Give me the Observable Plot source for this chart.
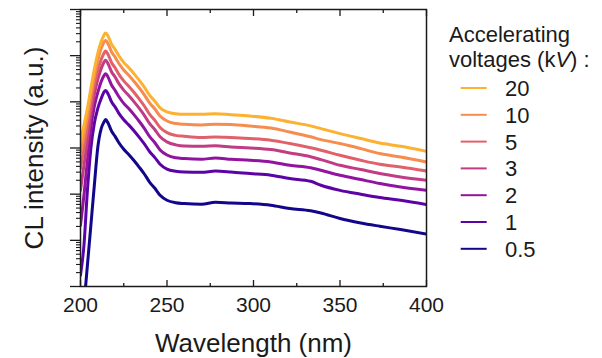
<!DOCTYPE html>
<html><head><meta charset="utf-8">
<script src="https://cdn.jsdelivr.net/npm/d3@7"></script>
<script src="https://cdn.jsdelivr.net/npm/@observablehq/plot@0.6"></script>
<style>
body{margin:0;background:#fff;font-family:"Liberation Sans",Arial,sans-serif;}
#wrap{position:relative;width:602px;height:358px;overflow:hidden;}
#legend{position:absolute;left:0;top:0;pointer-events:none;}
</style></head><body>
<div id="wrap"><div id="chart"></div><svg id="legend" width="602" height="358"></svg></div>
<script>
// Wavelength grid (nm)
const wavelength = [200, 202, 204, 206, 208, 210, 212, 213.5, 214.5, 216, 218, 220, 222, 225, 228, 231, 234, 237, 240, 243, 246, 250, 255, 260, 270, 278, 287, 298, 310, 321, 333, 339, 350, 362, 373, 385, 400];

// CL intensity (a.u.) per accelerating voltage
const cl20  = [1330, 3100, 7230, 19600, 50500, 112000, 204000, 275000, 308000, 262000, 176000, 137000, 102000, 71600, 54400, 40400, 29200, 20600, 13800, 10300, 7420, 6070, 5500, 5360, 5360, 5550, 5280, 4930, 4400, 3650, 3020, 2630, 2050, 1600, 1280, 1090, 848];
const cl10  = [807, 1880, 4850, 13800, 35600, 79100, 144000, 194000, 214000, 178000, 120000, 93300, 69200, 48800, 37100, 27500, 19900, 14000, 9420, 6990, 4930, 3840, 3390, 3260, 3150, 3270, 3210, 2990, 2710, 2220, 1750, 1520, 1250, 971, 757, 639, 498];
const cl5   = [364, 985, 2950, 8830, 22800, 48100, 83200, 112000, 126000, 105000, 70200, 54700, 40400, 28500, 21500, 15900, 11400, 8030, 5360, 3960, 2780, 2150, 1880, 1790, 1680, 1740, 1680, 1600, 1470, 1250, 1010, 892, 695, 542, 444, 388, 318];
const cl3   = [121, 422, 1470, 5360, 14500, 30700, 53100, 71600, 79100, 65800, 44200, 34400, 25400, 17900, 13500, 10000, 7200, 5050, 3370, 2490, 1750, 1360, 1170, 1100, 1090, 1120, 1050, 1000, 924, 780, 645, 561, 422, 341, 279, 236, 200];
const cl2   = [21.2, 94.7, 542, 2670, 7990, 16100, 27800, 36500, 40800, 33900, 22800, 17700, 13200, 9280, 7060, 5210, 3750, 2630, 1760, 1300, 910, 706, 614, 590, 569, 610, 569, 542, 498, 422, 373, 329, 257, 207, 170, 143, 121];
const cl1   = [1.76, 7.83, 121, 985, 3420, 7230, 11900, 16100, 17700, 14700, 9900, 7760, 5780, 4100, 3130, 2340, 1700, 1210, 828, 620, 444, 349, 313, 302, 298, 316, 302, 279, 257, 218, 190, 156, 121, 99.5, 84.4, 73.8, 59.6];
const cl05  = [0.0688, 0.394, 2.89, 21.2, 156, 1040, 2670, 3600, 4120, 3420, 2300, 1790, 1330, 937, 713, 528, 382, 270, 181, 134, 94.7, 73.8, 65.2, 62.6, 60.4, 66.5, 64.5, 62.6, 57.5, 48.8, 43.7, 39.2, 29.7, 23.8, 20.2, 17.1, 13.6];

const voltages = ["20", "10", "5", "3", "2", "1", "0.5"];
const colors   = ["#fcb130", "#f68c4e", "#e0616a", "#c13c84", "#9114a0", "#5c03a6", "#12078a"];
const seriesList = [cl20, cl10, cl5, cl3, cl2, cl1, cl05];

// Axis ticks
const xMajor = [200, 250, 300, 350, 400];
const xMinor = [225, 275, 325, 375];
const yMajor = [1, 10, 100, 1000, 10000, 100000, 1000000];
const yMinor = yMajor.slice(0, -1).flatMap(p => [2,3,4,5,6,7,8,9].map(k => k * p));

const xTitle = "Wavelength (nm)";
const yTitle = "CL intensity (a.u.)";

// Build long table, drawn from lowest voltage up
const rows = [];
for (let i = voltages.length - 1; i >= 0; i--) {
  wavelength.forEach((w, j) => rows.push({kV: voltages[i], wavelength: w, intensity: seriesList[i][j]}));
}

const ink = "#1a1a1a";
const chart = Plot.plot({
  width: 602, height: 358,
  marginLeft: 80, marginRight: 176, marginTop: 9, marginBottom: 72,
  style: {fontFamily: '"Liberation Sans", Arial, sans-serif', background: "#fff", color: ink},
  x: {domain: [200, 400]},
  y: {type: "log", domain: [1, 1e6]},
  color: {domain: voltages, range: colors},
  marks: [
    Plot.line(rows, {x: "wavelength", y: "intensity", z: "kV", stroke: "kV", strokeWidth: 3, clip: true, curve: "monotone-x"}),
    Plot.frame({stroke: ink, strokeWidth: 1.5}),
    // bottom axis labels and inward ticks
    Plot.axisX({ticks: xMajor, tickSize: 0, tickPadding: 11, fontSize: 21, tickFormat: d => String(d), label: null}),
    Plot.axisX({ticks: xMajor, tickSize: 6, dy: -6, text: null, label: null, strokeWidth: 1.3}),
    Plot.axisX({ticks: xMinor, tickSize: 3, dy: -3, text: null, label: null, strokeWidth: 1.3}),
    // top inward ticks
    Plot.axisX({anchor: "top", ticks: xMajor, tickSize: 6, dy: 6, text: null, label: null, strokeWidth: 1.3}),
    Plot.axisX({anchor: "top", ticks: xMinor, tickSize: 3, dy: 3, text: null, label: null, strokeWidth: 1.3}),
    // left log ticks, outward, no labels
    Plot.axisY({ticks: yMajor, tickSize: 10, text: null, label: null, strokeWidth: 1.3}),
    Plot.axisY({ticks: yMinor, tickSize: 4, text: null, label: null, strokeWidth: 1.1}),
    // axis titles
    Plot.text([xTitle], {text: d => d, frameAnchor: "bottom", textAnchor: "middle", lineAnchor: "middle", dy: 57, fontSize: 26, fill: ink}),
    Plot.text([yTitle], {text: d => d, frameAnchor: "left", textAnchor: "middle", lineAnchor: "middle", rotate: -90, dx: -46, fontSize: 26, fill: ink})
  ]
});
document.getElementById("chart").appendChild(chart);

// Legend
const lg = d3.select("#legend").style("font-family", '"Liberation Sans", Arial, sans-serif');
lg.append("text").attr("x", 449).attr("y", 41.7).attr("font-size", 22).attr("fill", ink).text("Accelerating");
const t2 = lg.append("text").attr("x", 449).attr("y", 66.7).attr("font-size", 22).attr("fill", ink);
t2.append("tspan").text("voltages (k");
t2.append("tspan").attr("font-style", "italic").text("V");
t2.append("tspan").text(") :");
voltages.forEach((v, i) => {
  const cy = 88 + i * 26.8;
  lg.append("line").attr("x1", 460.7).attr("x2", 486.7).attr("y1", cy).attr("y2", cy)
    .attr("stroke", colors[i]).attr("stroke-width", 2);
  lg.append("text").attr("x", 505).attr("y", cy + 7.9).attr("font-size", 22).attr("fill", ink).text(v);
});
</script>
</body></html>
